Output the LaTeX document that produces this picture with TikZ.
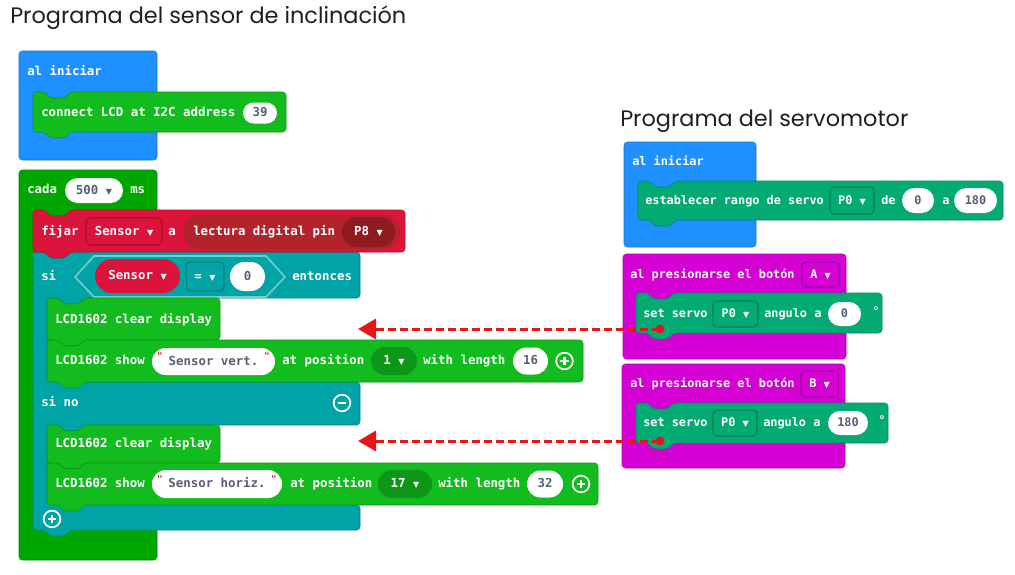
\documentclass[tikz,border=0pt]{standalone}
\usepackage{fontspec}
\setmainfont{Open Sans}
\newfontfamily\blockfont{DejaVu Sans Mono}
\newfontfamily\symbolfont{DejaVu Sans}
\newfontfamily\titlefont{Poppins}
\usetikzlibrary{arrows.meta, shapes.misc}

\definecolor{basicblue}{HTML}{1E90FF}
\definecolor{loopgreen}{HTML}{00A600}
\definecolor{lcdgreen}{HTML}{12BC1E}
\definecolor{lcddark}{HTML}{0E9618}
\definecolor{varred}{HTML}{DC143C}
\definecolor{pinred}{HTML}{B2232C}
\definecolor{pindark}{HTML}{8F1B21}
\definecolor{logicteal}{HTML}{00A4A6}
\definecolor{servogreen}{HTML}{03AA74}
\definecolor{inputmag}{HTML}{D400D4}
\definecolor{valgray}{HTML}{575E75}
\definecolor{linkred}{HTML}{E8141B}

\newcommand{\lfont}{\blockfont\bfseries\fontsize{9.3}{11}\selectfont}
\newcommand{\rfont}{\blockfont\bfseries\fontsize{8.9}{11}\selectfont}
\newcommand{\dd}{{\symbolfont\fontsize{6}{6}\selectfont ▼}}

% bloque de instruccion: estilo, x1, y1, x2, y2
\newcommand{\stmtblock}[5]{%
  \filldraw[#1] (#2,#3) -- (#2+12,#3) -- (#2+17,#3+6) -- (#2+32,#3+6) -- (#2+37,#3)
    -- (#4,#3) -- (#4,#5) -- (#2+37,#5) -- (#2+32,#5+6) -- (#2+17,#5+6) -- (#2+12,#5)
    -- (#2,#5) -- cycle;}

\begin{document}
\begin{tikzpicture}[x=0.75pt, y=-0.75pt]

%====Estilos de bloques y campos============================================

	\tikzstyle{lbl}=[anchor=west, inner sep=0pt, text=white, font=\lfont, text height=6.8pt, text depth=1.2pt]
	\tikzstyle{rlbl}=[lbl, font=\rfont]
	\tikzstyle{title}=[anchor=west, inner sep=0pt, text=black!88, font=\titlefont\fontsize{16.8}{20}\selectfont]
	\tikzstyle{qmark}=[inner sep=0pt, text=varred, font=\blockfont\bfseries\fontsize{7}{7}\selectfont]
	\tikzstyle{dot}=[circle, fill=linkred, inner sep=0pt, minimum size=6.5pt]
	\tikzstyle{link}=[draw=linkred, line width=2.25pt, dash pattern=on 6pt off 3pt, -{Triangle[length=13.5pt, width=15pt]}]
	\tikzset{
		blk/.style={fill=#1, draw=#1!80!black, line width=0.4pt, rounded corners=2.5pt},
		size/.style 2 args={minimum width=#1*0.75pt, minimum height=#2*0.75pt},
		pill/.style={rounded rectangle, inner sep=0pt, font=\lfont, text height=6.8pt, text depth=1.2pt},
		wval/.style={pill, fill=white, text=valgray},
		wvalr/.style={wval, font=\rfont},
		dbox/.style={rectangle, rounded corners=3pt, fill=#1, draw=#1!75!black, line width=0.8pt, text=white,
			inner sep=0pt, font=\lfont, text height=6.8pt, text depth=1.2pt},
		rdbox/.style={dbox=#1, font=\rfont},
		plusbtn/.style={circle, draw=white, line width=1.3pt, minimum size=12.5pt, inner sep=0pt,
			path picture={\draw[white, line width=1.7pt] ([xshift=-3.3pt]path picture bounding box.center) -- ([xshift=3.3pt]path picture bounding box.center);
				\draw[white, line width=1.7pt] ([yshift=-3.3pt]path picture bounding box.center) -- ([yshift=3.3pt]path picture bounding box.center);}},
		minusbtn/.style={plusbtn, path picture={\draw[white, line width=1.7pt] ([xshift=-3.3pt]path picture bounding box.center) -- ([xshift=3.3pt]path picture bounding box.center);}}
	}

	\fill[white] (0,0) rectangle (1015,575);
	\useasboundingbox (0,0) rectangle (1015,575);

%====Titulos===============================================================

	\node[title] (titleSensor) at (10,18) {Programa del sensor de inclinación};
	\node[title] (titleServo)  at (620,121) {Programa del servomotor};

%====Sensor: al iniciar=====================================================

	\filldraw[blk=basicblue] (19,51) rectangle (157,160);
	\node[lbl] (startSensor) at (27,72) {al iniciar};
	\stmtblock{blk=lcdgreen}{33}{92}{286}{132}
	\node[lbl] (connectTxt) at (41,113) {connect LCD at I2C address};
	\node[wval, size={34}{21}] (address) at (260,113) {39};

%====Sensor: cada 500 ms====================================================

	\filldraw[blk=loopgreen] (19,170) rectangle (157,560);
	\node[lbl] (cadaTxt) at (27,190) {cada};
	\node[wval, size={58}{25}] (interval) at (94,190.5) {500 \dd};
	\node[lbl] (msTxt) at (130,190) {ms};

	% si / si no
	\filldraw[blk=logicteal] (33,252) -- (360,252) -- (360,298) -- (84,298) -- (79,304) -- (64,304) -- (59,298)
		-- (47,298) -- (47,382) -- (360,382) -- (360,425) -- (84,425) -- (79,431) -- (64,431) -- (59,425)
		-- (47,425) -- (47,505) -- (360,505) -- (360,530) -- (70,530) -- (65,536) -- (50,536) -- (45,530)
		-- (33,530) -- cycle;
	\draw[logicteal!55!white, line width=1.2pt] (75,277) -- (94,256) -- (266,256) -- (285,277) -- (266,297) -- (94,297) -- cycle;
	\node[lbl] (siTxt) at (41,277) {si};
	\node[pill, fill=varred, text=white, size={85}{34}] (condVar) at (137.5,276) {Sensor \dd};
	\node[dbox=logicteal, size={38}{29}] (operator) at (205,276.5) {= \dd};
	\node[wval, size={35}{29}] (cmpValue) at (247.5,276.5) {0};
	\node[lbl] (entoncesTxt) at (292,277) {entonces};
	\node[lbl] (sinoTxt) at (41,403) {si no};
	\node[minusbtn] (removeElse) at (342,403) {};
	\node[plusbtn] (addElse) at (52,519) {};

	% fijar
	\stmtblock{blk=varred}{33}{210}{405}{252}
	\node[lbl] (fijarTxt) at (41,232) {fijar};
	\node[dbox=varred, size={76}{27}] (varSel) at (124,231.5) {Sensor \dd};
	\node[lbl] (aTxt) at (168,232) {a};
	\node[pill, fill=pinred, size={217}{34}] (readPin) at (291.5,232) {};
	\node[lbl] (readTxt) at (193,232) {lectura digital pin};
	\node[pill, fill=pindark, text=white, size={53}{30}] (pinSel) at (368.5,232) {P8 \dd};

	% rama vertical
	\stmtblock{blk=lcdgreen}{47}{298}{220}{340}
	\node[lbl] (clearVert) at (55,320) {LCD1602 clear display};
	\stmtblock{blk=lcdgreen}{47}{340}{583}{382}
	\node[lbl] (showVert) at (55,361) {LCD1602 show};
	\node[wval, size={123}{27}] (strVert) at (213.5,361.5) {Sensor vert.};
	\node[qmark] (qVertL) at (160,356) {\textquotedbl};
	\node[qmark] (qVertR) at (267,356) {\textquotedbl};
	\node[lbl] (posVert) at (282,361) {at position};
	\node[pill, fill=lcddark, text=white, size={46}{28}] (posSelVert) at (394,361) {1 \dd};
	\node[lbl] (lenVert) at (423,361) {with length};
	\node[wval, size={35}{27}] (lenValVert) at (530.5,361) {16};
	\node[plusbtn] (addVert) at (564.5,361) {};

	% rama horizontal
	\stmtblock{blk=lcdgreen}{47}{425}{220}{463}
	\node[lbl] (clearHoriz) at (55,444) {LCD1602 clear display};
	\stmtblock{blk=lcdgreen}{47}{463}{598}{505}
	\node[lbl] (showHoriz) at (55,484) {LCD1602 show};
	\node[wval, size={130}{28}] (strHoriz) at (217,484) {Sensor horiz.};
	\node[qmark] (qHorizL) at (160,479) {\textquotedbl};
	\node[qmark] (qHorizR) at (274,479) {\textquotedbl};
	\node[lbl] (posHoriz) at (290,484) {at position};
	\node[pill, fill=lcddark, text=white, size={54}{28}] (posSelHoriz) at (405,484) {17 \dd};
	\node[lbl] (lenHoriz) at (438,484) {with length};
	\node[wval, size={36}{27}] (lenValHoriz) at (545,484) {32};
	\node[plusbtn] (addHoriz) at (581,484) {};

%====Servomotor==============================================================

	\filldraw[blk=basicblue] (624,142) rectangle (756,247);
	\node[rlbl] (startServo) at (632,162) {al iniciar};
	\stmtblock{blk=servogreen}{638}{181}{1003}{220}
	\node[rlbl] (rangeTxt) at (645,201) {establecer rango de servo};
	\node[rdbox=servogreen, size={44}{27}] (rangePin) at (852,200.5) {P0 \dd};
	\node[rlbl] (deTxt) at (881,201) {de};
	\node[wvalr, size={32}{25}] (rangeLow) at (918,200.5) {0};
	\node[rlbl] (toTxt) at (942,201) {a};
	\node[wvalr, size={43}{25}] (rangeHigh) at (975.5,200.5) {180};

	% boton A
	\filldraw[blk=inputmag] (623,254) rectangle (846,359);
	\node[rlbl] (btnATxt) at (630,275) {al presionarse el botón};
	\node[rdbox=inputmag, size={37}{25}] (btnA) at (820.5,274.5) {A \dd};
	\stmtblock{blk=servogreen}{636}{293}{882}{333}
	\node[rlbl] (servoATxt) at (643,314) {set servo};
	\node[rdbox=servogreen, size={45}{26}] (servoPinA) at (735.5,314) {P0 \dd};
	\node[rlbl] (angleATxt) at (764,314) {angulo a};
	\node[wvalr, size={33}{24}] (angleA) at (844.5,314) {0};
	\node[rlbl] (degA) at (872,312) {°};

	% boton B
	\filldraw[blk=inputmag] (622,364) rectangle (845,468);
	\node[rlbl] (btnBTxt) at (630,384) {al presionarse el botón};
	\node[rdbox=inputmag, size={37}{26}] (btnB) at (819.5,384) {B \dd};
	\stmtblock{blk=servogreen}{636}{403}{888}{443}
	\node[rlbl] (servoBTxt) at (643,423) {set servo};
	\node[rdbox=servogreen, size={44}{26}] (servoPinB) at (735,423) {P0 \dd};
	\node[rlbl] (angleBTxt) at (763,423) {angulo a};
	\node[wvalr, size={40}{24}] (angleB) at (848,423) {180};
	\node[rlbl] (degB) at (878,421) {°};

%====Flechas================================================================

	\node[dot] (srcA) at (660,329) {};
	\node[dot] (srcB) at (660,441) {};
	\coordinate (tipA) at (358,329);
	\coordinate (tipB) at (358,441);
	\draw[link] (srcA.center) -- (tipA);
	\draw[link] (srcB.center) -- (tipB);

\end{tikzpicture}
\end{document}
